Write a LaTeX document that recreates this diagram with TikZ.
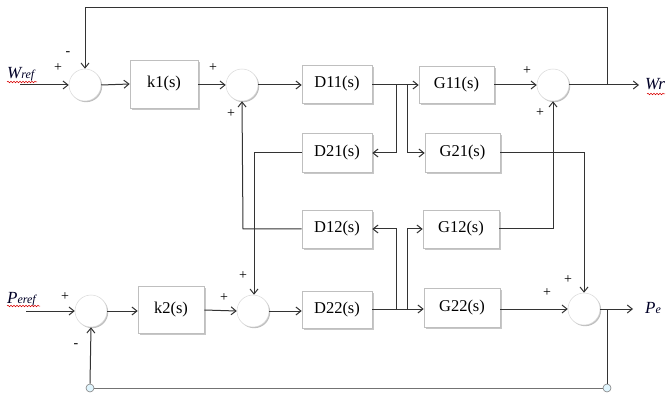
\documentclass[tikz,border=0pt]{standalone}
\usepackage{fontspec}
\setmainfont{Liberation Serif}
\usetikzlibrary{arrows.meta,shadows,decorations.pathmorphing}
\begin{document}
\begin{tikzpicture}[x=1pt,y=-1pt,
  >={Straight Barb[length=5pt,width=8pt]},
  blk/.style={draw=black!25,fill=white,line width=0.6pt,inner sep=0pt,
    drop shadow={shadow xshift=1.6pt,shadow yshift=-1.6pt,fill=black,opacity=0.22},
    font=\fontsize{16.5}{18}\selectfont},
  sumc/.style={circle,draw=black!15,fill=white,minimum size=32pt,inner sep=0pt,line width=0.5pt,
    drop shadow={shadow xshift=1.2pt,shadow yshift=-1.2pt,fill=black,opacity=0.25}},
  tap/.style={circle,draw=black!50,fill=cyan!12,minimum size=8pt,inner sep=0pt,line width=0.6pt},
  wire/.style={draw=black!80,line width=1pt},
  sgn/.style={font=\fontsize{14}{14}\selectfont,inner sep=0pt},
  lbl/.style={font=\itshape\fontsize{17}{18}\selectfont,inner sep=0pt,text=black!85!blue},
  squig/.style={draw=red!85!black,line width=0.5pt,decorate,decoration={snake,amplitude=0.8pt,segment length=3pt}}
]
\useasboundingbox (0,0) rectangle (667,398);
% nodes
\node[sumc] (s1) at (85,85) {};
\node[blk,minimum width=68pt,minimum height=48pt] (k1) at (164,84) {k1(s)};
\node[sumc] (s2) at (242,85) {};
\node[blk,minimum width=70pt,minimum height=38pt] (D11) at (337,84) {D11(s)};
\node[blk,minimum width=75pt,minimum height=37pt] (G11) at (456.5,84.5) {G11(s)};
\node[sumc] (s3) at (553,85) {};
\node[blk,minimum width=70pt,minimum height=39pt] (D21) at (337,152.5) {D21(s)};
\node[blk,minimum width=75pt,minimum height=39pt] (G21) at (462.5,152.5) {G21(s)};
\node[blk,minimum width=70pt,minimum height=38pt] (D12) at (337,229) {D12(s)};
\node[blk,minimum width=76pt,minimum height=38pt] (G12) at (461,229) {G12(s)};
\node[sumc] (t1) at (91,311) {};
\node[blk,minimum width=66pt,minimum height=47pt] (k2) at (171,309.5) {k2(s)};
\node[sumc] (t2) at (253,311) {};
\node[blk,minimum width=70pt,minimum height=37pt] (D22) at (337,309.5) {D22(s)};
\node[blk,minimum width=76pt,minimum height=39pt] (G22) at (462,308) {G22(s)};
\node[sumc] (t3) at (584,309) {};
\node[tap] (c1) at (90,388) {};
\node[tap] (c2) at (607,388) {};
% labels
\node[lbl,anchor=base west] (wref) at (7,79) {W\fontsize{12}{12}\selectfont ref};
\node[lbl,anchor=base west] (wr) at (645,90) {Wr};
\node[lbl,anchor=base west] (peref) at (7,303) {P\fontsize{12}{12}\selectfont eref};
\node[lbl,anchor=base west] (pe) at (645,313) {P\fontsize{12}{12}\selectfont e};
\draw[squig] (7,82) -- (37,82);
\draw[squig] (647,94) -- (665,94);
\draw[squig] (7,306) -- (40,306);
% coordinates
\coordinate (win) at (20,85);
\coordinate (wout) at (639,85);
\coordinate (pin) at (26,311);
\coordinate (pout) at (633,309);
% signs
\node[sgn] (p1) at (58,68) {+};
\node[sgn] (m1) at (68,54) {-};
\node[sgn] (p2) at (213,68) {+};
\node[sgn] (p3) at (231,114) {+};
\node[sgn] (p4) at (527,71) {+};
\node[sgn] (p5) at (540,113) {+};
\node[sgn] (p6) at (65,297) {+};
\node[sgn] (m2) at (76,346) {-};
\node[sgn] (p7) at (224,298) {+};
\node[sgn] (p8) at (243,276) {+};
\node[sgn] (p9) at (547,293) {+};
\node[sgn] (p10) at (568,280) {+};
% upper path
\draw[wire,->] (win) -- (s1.west);
\draw[wire,->] (s1.east) -- (k1.west);
\draw[wire,->] (k1.east |- s2) -- (s2.west);
\draw[wire,->] (s2.east) -- (D11.west |- s2);
\draw[wire,->] (D11.east |- s2) -- (G11.west |- s2);
\draw[wire,->] (G11.east |- s3) -- (s3.west);
\draw[wire,->] (s3.east) -- (wout);
\draw[wire,->] (607,85) -- (607,8) -- (85,8) -- (s1.north);
% D11 branches
\draw[wire,->] (396,85) -- (396,153) -- (D21.east |- 0,153);
\draw[wire,->] (407,85) -- (407,153) -- (G21.west |- 0,153);
% cross couplings
\draw[wire,->] (D21.west |- 0,153) -- (254,153) -- (254,0 |- t2.north);
\draw[wire,->] (D12.west) -- (243,229) -- (s2.south);
\draw[wire,->] (G21.east |- 0,153) -- (584,153) -- (t3.north);
\draw[wire,->] (G12.east) -- (553,229) -- (s3.south);
% lower path
\draw[wire,->] (pin) -- (t1.west);
\draw[wire,->] (t1.east) -- (k2.west |- t1);
\draw[wire,->] (k2.east |- 0,310) -- (t2.west);
\draw[wire,->] (t2.east) -- (D22.west |- t2);
\draw[wire,->] (D22.east |- 0,309) -- (G22.west |- 0,309);
\draw[wire,->] (G22.east |- t3) -- (t3.west);
\draw[wire,->] (t3.east) -- (pout);
% D22 branches
\draw[wire,->] (396,309) -- (396,229) -- (D12.east);
\draw[wire,->] (407,309) -- (407,229) -- (G12.west);
% lower feedback
\draw[wire] (607,309) -- (c2.north);
\draw[wire,draw=black!55] (c2.west) -- (c1.east);
\draw[wire,->] (c1.north) -- (t1.south);
\end{tikzpicture}
\end{document}
